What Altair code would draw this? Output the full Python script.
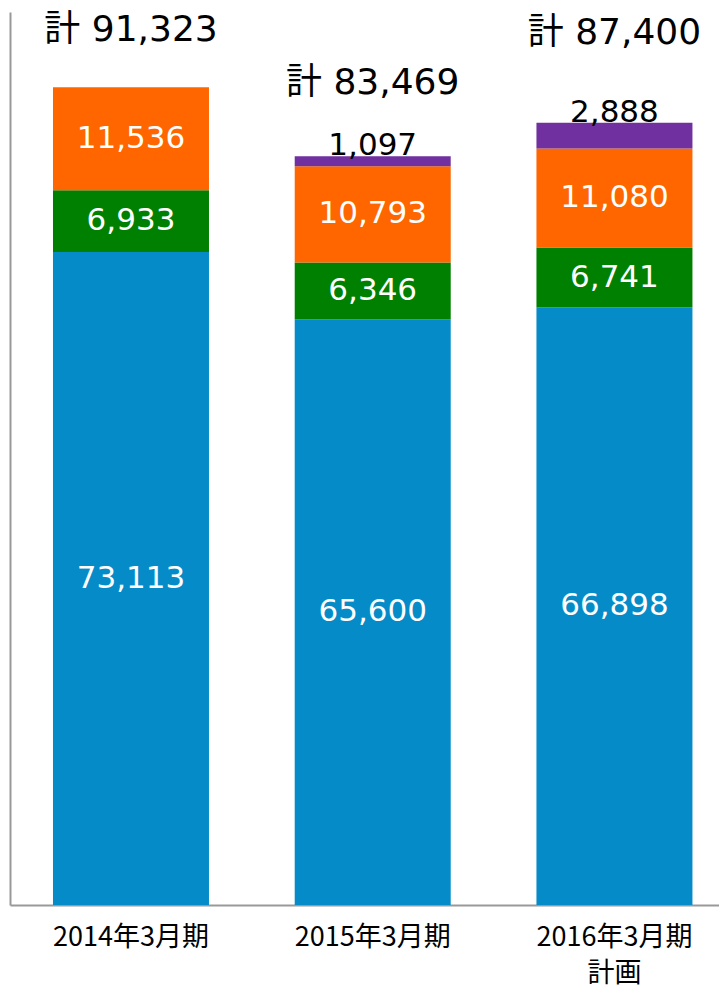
import altair as alt
import pandas as pd

categories = ["2014年3月期", "2015年3月期", "2016年3月期\n計画"]
series_names = ["blue", "green", "orange", "purple"]
blue_vals = [73113, 65600, 66898]
green_vals = [6933, 6346, 6741]
orange_vals = [11536, 10793, 11080]
purple_vals = [0, 1097, 2888]
totals = ["計 91,323", "計 83,469", "計 87,400"]
total_dy = [-57, -73, -90]  # pixel offsets of the total labels

colors = ["#058CC8", "#008000", "#FF6600", "#7030A0"]

rows = []
for i, cat in enumerate(categories):
    base = 0
    for s, vals in zip(series_names, [blue_vals, green_vals, orange_vals, purple_vals]):
        v = vals[i]
        rows.append(dict(cat=cat, series=s, value=v, start=base, end=base + v,
                         mid=base + v / 2, label=f"{v:,}" if v else "",
                         order=series_names.index(s)))
        base += v
df = pd.DataFrame(rows)

tot_rows = []
for i, cat in enumerate(categories):
    top = blue_vals[i] + green_vals[i] + orange_vals[i] + purple_vals[i]
    tot_rows.append(dict(cat=cat, top=top, text=totals[i]))
tdf = pd.DataFrame(tot_rows)

xscale = alt.Scale(domain=categories, paddingInner=0.355, paddingOuter=0.144, align=0.618)
yscale = alt.Scale(domain=[0, 100000], nice=False)

x_enc = alt.X("cat:N", scale=xscale, sort=categories, title=None,
              axis=alt.Axis(labelAngle=0, ticks=False, domainColor="#999999", domainWidth=2,
                            labelFont="Noto Sans CJK JP", labelFontSize=27, labelColor="#000000",
                            labelPadding=19, labelLineHeight=36,
                            labelExpr="split(datum.label, '\\n')"))

bars = alt.Chart(df).mark_bar(size=156).encode(
    x=x_enc,
    y=alt.Y("start:Q", scale=yscale, title=None,
            axis=alt.Axis(labels=False, ticks=False, grid=False, domainColor="#999999", domainWidth=2)),
    y2="end:Q",
    color=alt.Color("series:N", scale=alt.Scale(domain=series_names, range=colors), legend=None),
)

inner = alt.Chart(df).transform_filter(
    "datum.series != 'purple' && datum.value > 0"
).mark_text(font="DejaVu Sans", fontSize=31, color="white", baseline="middle").encode(
    x=alt.X("cat:N", scale=xscale, sort=categories),
    y=alt.Y("mid:Q", scale=yscale),
    text="label:N",
)

purple_lab = alt.Chart(df).transform_filter(
    "datum.series == 'purple' && datum.value > 0"
).mark_text(font="DejaVu Sans", fontSize=31, color="black", baseline="middle", dy=-10).encode(
    x=alt.X("cat:N", scale=xscale, sort=categories),
    y=alt.Y("end:Q", scale=yscale),
    text="label:N",
)

total_layers = []
for i in range(len(categories)):
    total_layers.append(
        alt.Chart(tdf.iloc[[i]]).mark_text(
            font="DejaVu Sans, Noto Sans CJK JP", fontSize=36, color="black",
            baseline="middle", dy=total_dy[i]
        ).encode(
            x=alt.X("cat:N", scale=xscale, sort=categories),
            y=alt.Y("top:Q", scale=yscale),
            text="text:N",
        )
    )

chart = alt.layer(bars, inner, purple_lab, *total_layers).properties(
    width=709, height=893,
    autosize=alt.AutoSizeParams(type="none"),
    padding={"left": 2, "top": 4, "right": 0, "bottom": 88},
).configure_view(stroke=None).configure_axis(grid=False)

chart.save("out.html", embed_options={"renderer": "svg", "actions": False})
